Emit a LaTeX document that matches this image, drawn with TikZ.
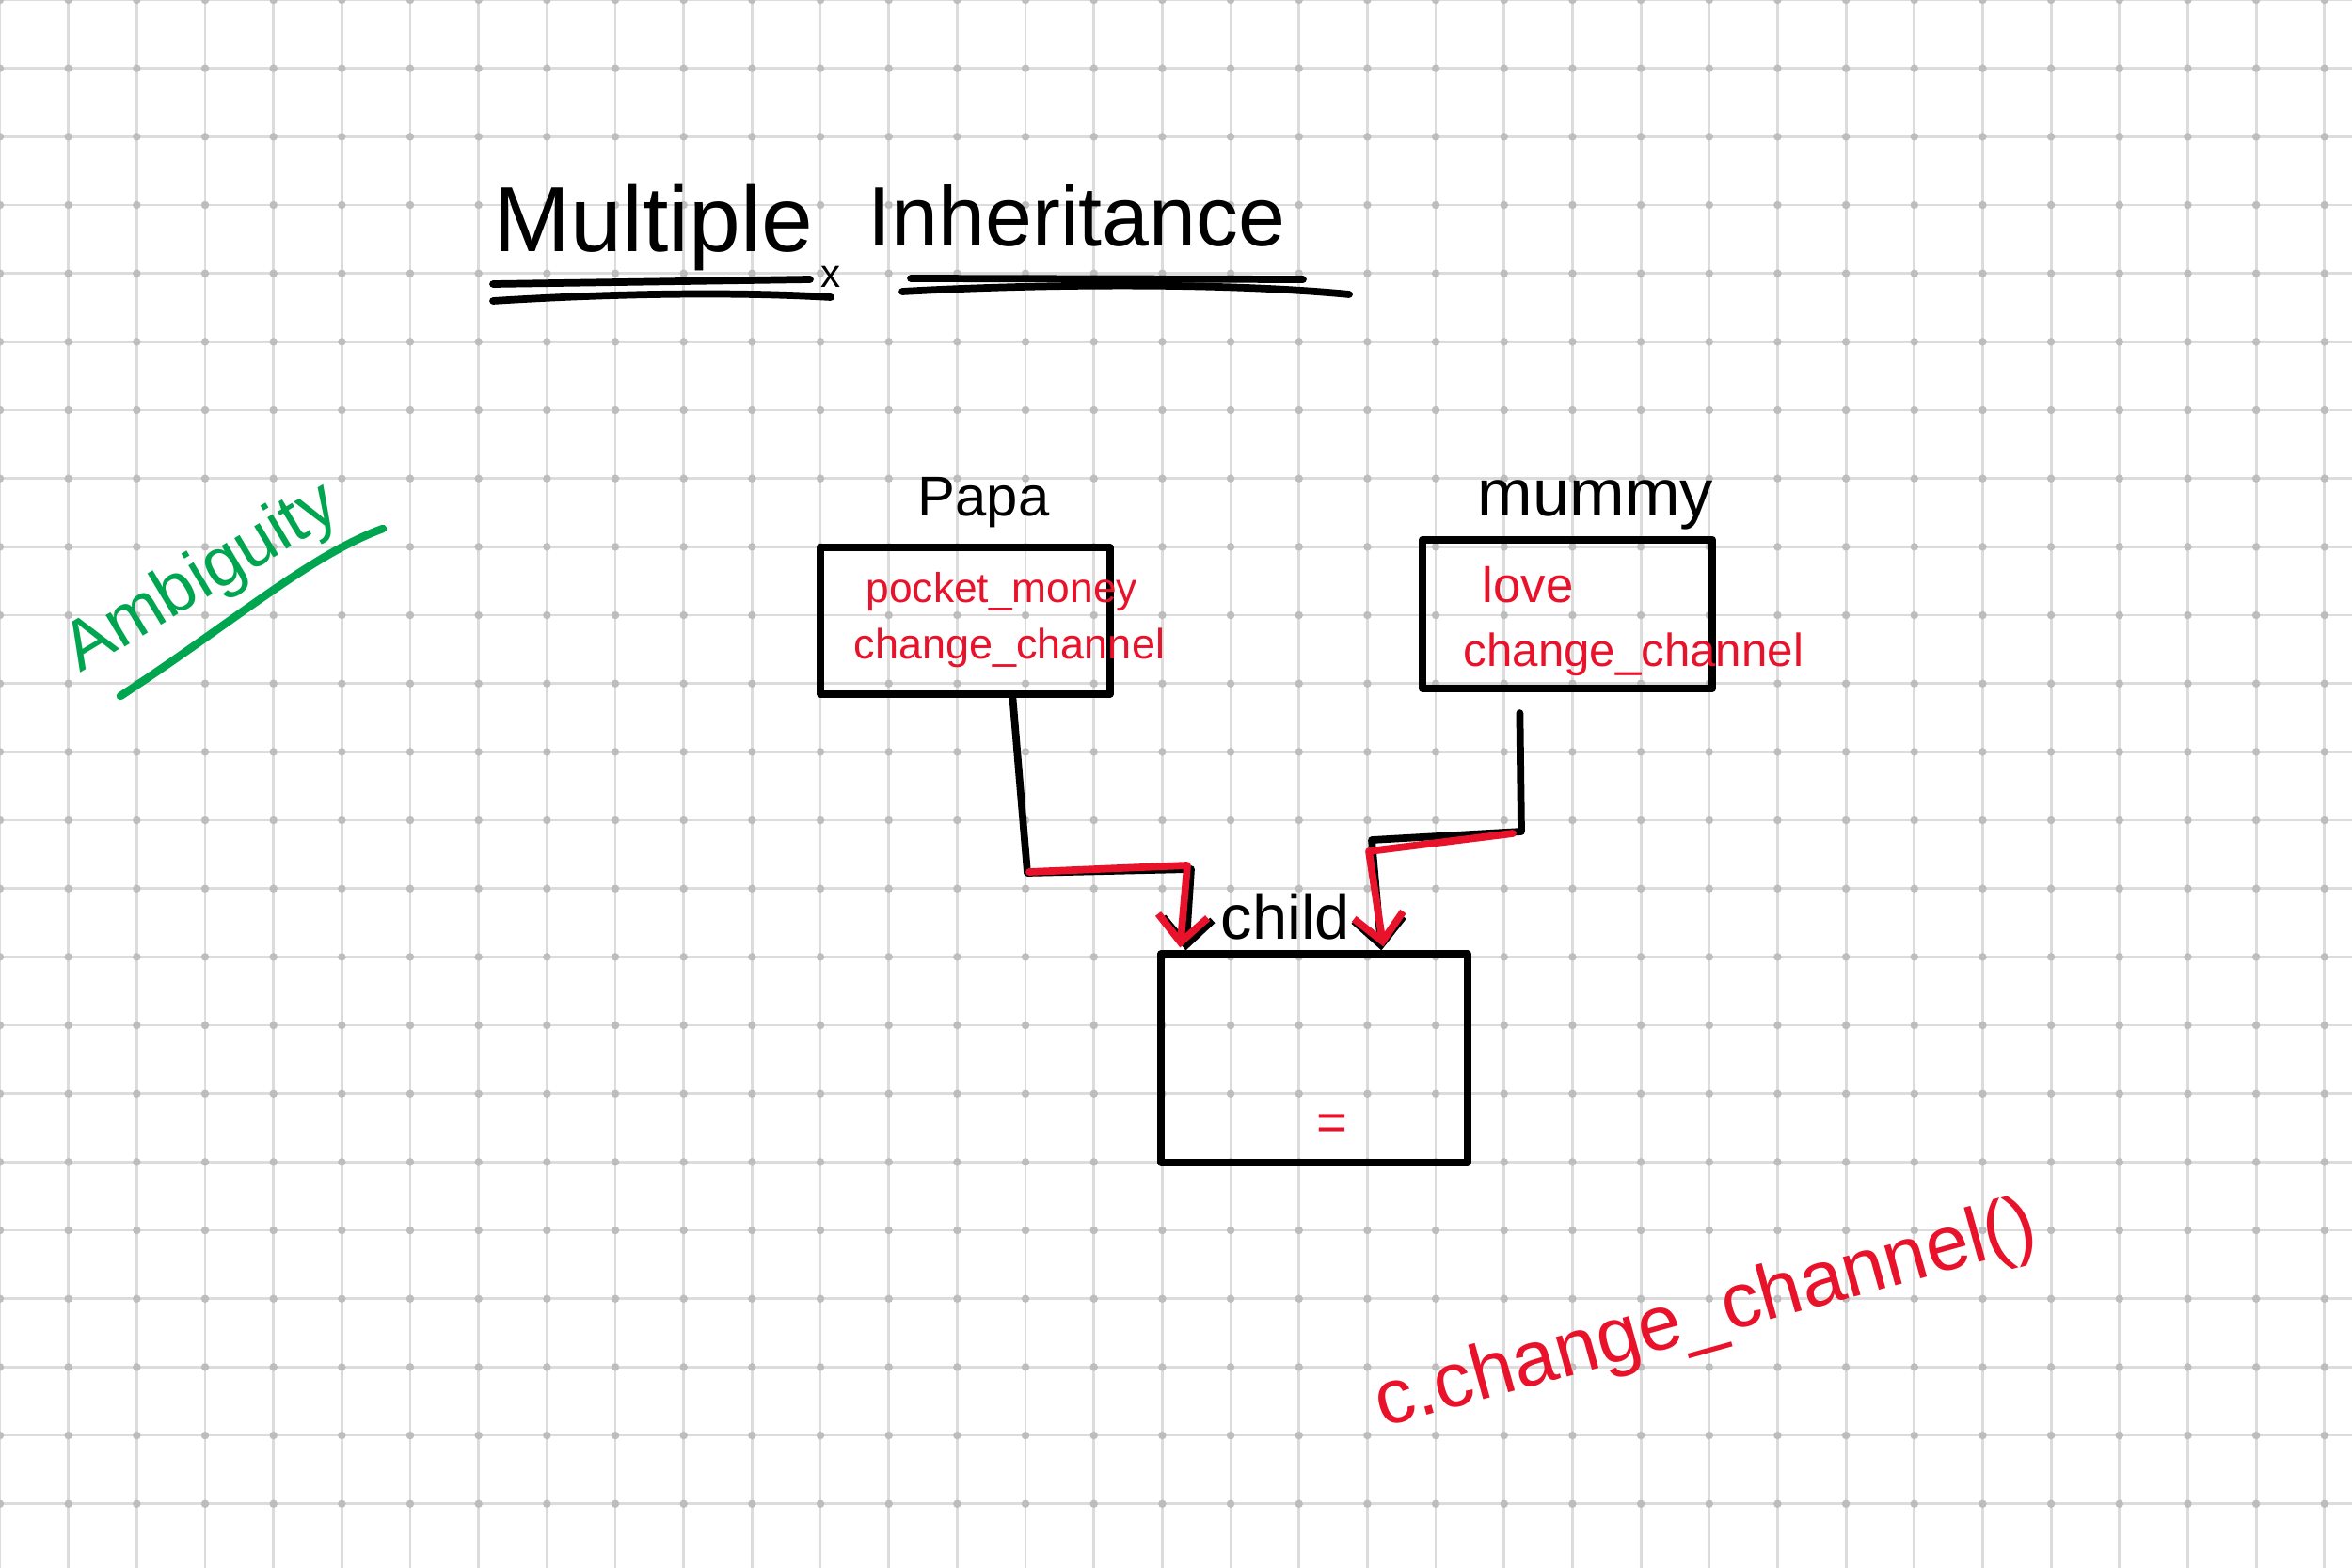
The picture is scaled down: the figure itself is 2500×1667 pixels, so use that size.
\documentclass[tikz,border=0pt]{standalone}
\usepackage{fontspec}
\setmainfont{Liberation Sans}
\usetikzlibrary{arrows.meta,calc}
\definecolor{inkred}{HTML}{E8132B}
\definecolor{inkgreen}{HTML}{00A550}
\definecolor{gridc}{HTML}{DCDCDC}
\definecolor{dotc}{HTML}{BDBDBD}
\newcommand{\fsz}[1]{\fontsize{#1}{#1}\selectfont}
\begin{document}
\begin{tikzpicture}[x=0.01cm,y=-0.01cm,
 gridline/.style={draw=gridc,line width=0.8pt},
 ink/.style={draw=black,line width=2.2pt,line cap=round,line join=round},
 redink/.style={draw=inkred,line width=2.2pt,line cap=round,line join=round},
 classbox/.style={draw=black,line width=2.3pt,inner sep=0pt,line join=round},
 lbl/.style={inner sep=0pt,anchor=base west,text=black},
 redlbl/.style={inner sep=0pt,anchor=base west,text=inkred},
 tip/.style={-{Straight Barb[length=8pt,width=15pt]}},
]
\useasboundingbox (0,0) rectangle (2500,1667);
\fill[white] (0,0) rectangle (2500,1667);
\foreach \i in {0,...,34} \draw[gridline] ({\i*72.67},0) -- ({\i*72.67},1667);
\foreach \j in {0,...,22} \draw[gridline] (0,{\j*72.67}) -- (2500,{\j*72.67});
\foreach \i in {0,...,34} \foreach \j in {0,...,22} \fill[dotc] ({\i*72.67},{\j*72.67}) circle[radius=1.2pt];

% title
\node[lbl,font=\fsz{28}] (t1) at (524,268) {Multiple};
\node[lbl,font=\fsz{12}] (tx) at (872,306) {x};
\node[lbl,font=\fsz{25.5}] (t2) at (922,262) {Inheritance};
\draw[ink] (524,302) -- (861,297);
\draw[ink] (524,320) .. controls (650,312) and (780,310) .. (883,316);
\draw[ink] (968,296) -- (1385,297);
\draw[ink] (959,310) .. controls (1100,302) and (1300,300) .. (1434,313);

% class boxes
\node[classbox,minimum width=3.07cm,minimum height=1.56cm] (papa) at (1026,660) {};
\node[classbox,minimum width=3.08cm,minimum height=1.58cm] (mummy) at (1666,653) {};
\node[classbox,minimum width=3.25cm,minimum height=2.21cm] (child) at (1397,1125) {};

% labels
\node[lbl,font=\fsz{17}] (papal) at (975,548) {Papa};
\node[lbl,font=\fsz{20}] (mummyl) at (1570,548) {mummy};
\node[lbl,font=\fsz{19}] (childl) at (1297,998) {child};
\node[redlbl,font=\fsz{12.6}] (pm) at (920,640) {pocket\_money};
\node[redlbl,font=\fsz{12.8}] (pc) at (907,700) {change\_channel};
\node[redlbl,font=\fsz{15}] (ml) at (1575,640) {love};
\node[redlbl,font=\fsz{14}] (mc) at (1555,708) {change\_channel};
\node[inner sep=0pt,text=inkred,font=\fsz{16}] (eq) at (1416,1199) {=};

% connectors papa -> child
\coordinate (pa) at ($(papa.south west)!0.66!(papa.south east)$);
\coordinate (pb1) at (1092,928);
\coordinate (pb2) at (1266,924);
\coordinate (ct1) at ($(child.north west)!0.09!(child.north east)$);
\draw[ink,tip] (pa) -- (pb1) -- (pb2) -- (ct1);
\coordinate (pr1) at (1094,927);
\coordinate (pr2) at (1262,920);
\draw[redink,tip] (pr1) -- (pr2) -- ($(ct1)+(-6,-3)$);

% connectors mummy -> child
\coordinate (ma) at ($(mummy.south west)!0.34!(mummy.south east)+(0,22)$);
\coordinate (mb1) at (1617,884);
\coordinate (mb2) at (1458,893);
\coordinate (ct2) at ($(child.north west)!0.714!(child.north east)$);
\draw[ink,tip] (ma) -- (mb1) -- (mb2) -- (ct2);
\coordinate (mr1) at (1608,886);
\coordinate (mr2) at (1455,905);
\draw[redink,tip] (mr1) -- (mr2) -- ($(ct2)+(2,-4)$);

% ambiguity
\node[inner sep=0pt,text=inkgreen,font=\fsz{21},rotate=31] (amb) at (215,616) {Ambiguity};
\draw[draw=inkgreen,line width=2.4pt,line cap=round] (128,740) .. controls (250,660) and (330,590) .. (407,562);

% call
\node[redlbl,font=\fsz{23.5},rotate=15.5] (call) at (1469,1518) {c.change\_channel()};
\end{tikzpicture}
\end{document}
